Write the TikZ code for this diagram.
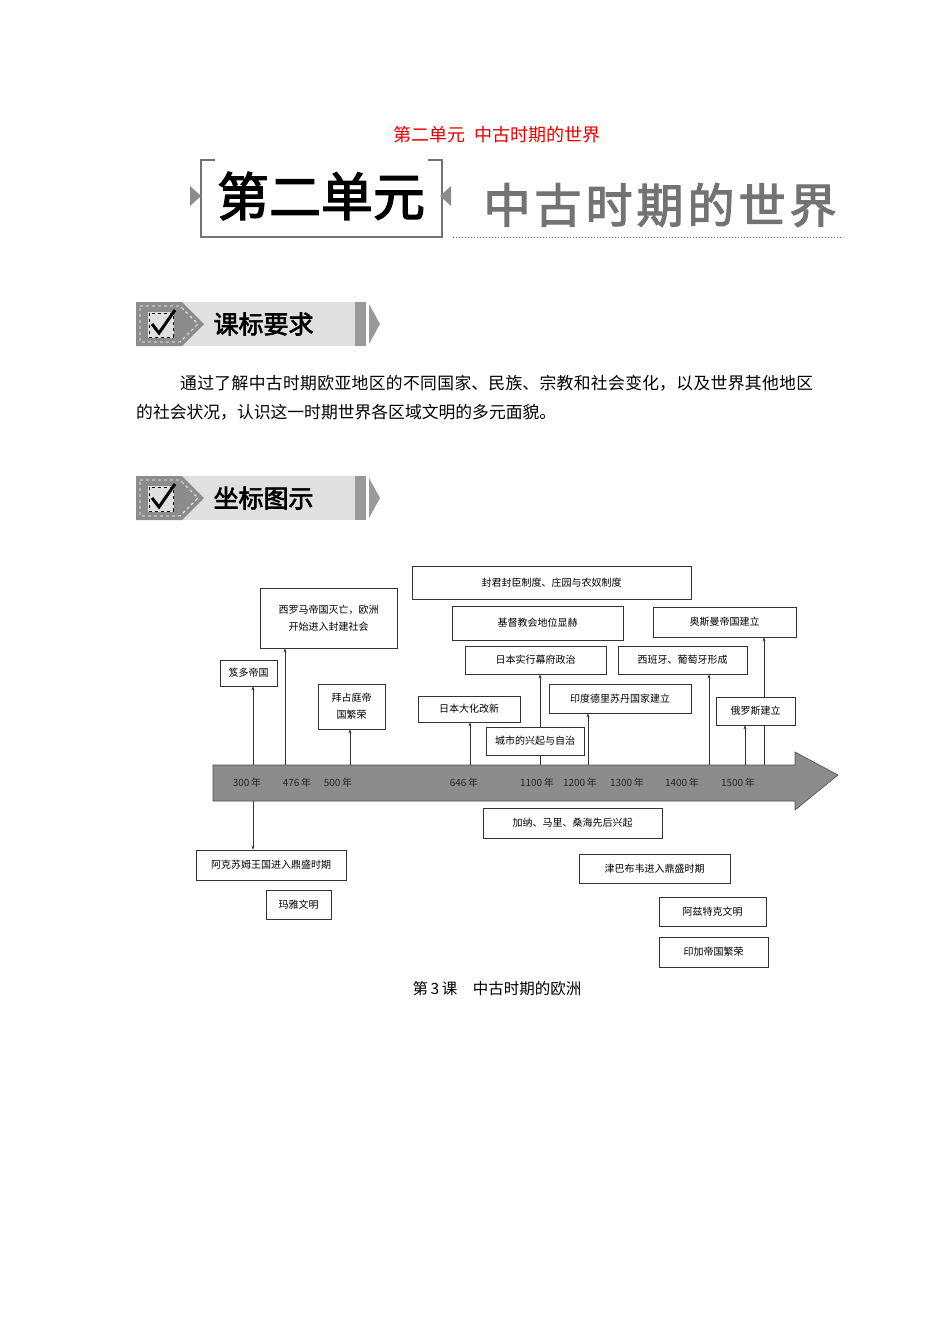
\documentclass[tikz,border=0pt]{standalone}
\usepackage{fontspec}
\setmainfont{Liberation Serif}
\newfontfamily\cjk{Noto Sans CJK SC}[AutoFakeBold=2.5]
\XeTeXlinebreaklocale "zh"
\XeTeXlinebreakskip=0pt plus 1pt
\usetikzlibrary{arrows.meta,backgrounds}
\tikzset{
  x=1pt,y=-1pt,
  ev/.style={draw=black!80,fill=white,line width=0.7pt,font=\cjk\fontsize{10}{13}\selectfont,inner sep=0pt,align=center},
  conn/.style={black!80,line width=0.6pt,-{Stealth[length=4pt,width=3pt]}},
  tick/.style={font=\cjk\fontsize{10}{12}\selectfont,text=black!85},
}
\newcommand{\bx}[6]{\node[ev,minimum width=#4-#2,minimum height=#5-#3] (#1) at ({(#2+#4)/2},{(#3+#5)/2}) {#6};}
\newcommand{\banner}[3]{%
  \fill[black!12] (136,#1) rectangle (355,#1+44);
  \fill[black!45] (136,#1) -- (182,#1) -- (204,#1+22) -- (182,#1+44) -- (136,#1+44) -- cycle;
  \draw[white,dashed,line width=0.8pt] (140,#1+4) -- (180,#1+4) -- (198,#1+22) -- (180,#1+40) -- (140,#1+40) -- cycle;
  \fill[black!12] (148,#1+10) rectangle (174,#1+36);
  \draw[black,dashed,line width=0.8pt] (149,#1+11) rectangle (173,#1+35);
  \draw[black,line width=3pt] (152,#1+22) -- (159,#1+31) -- (175,#1+8);
  \fill[black!40] (355,#1) rectangle (366,#1+44);
  \fill[black!40] (369,#1+2) -- (380,#1+22) -- (369,#1+42) -- cycle;
  \node[font=\cjk\bfseries\fontsize{25}{28}\selectfont,anchor=west] (#2) at (210,#1+22) {#3};}
\begin{document}
\begin{tikzpicture}
\useasboundingbox (0,0) rectangle (950,1344);
% header
\node[font=\cjk\fontsize{18}{20}\selectfont,text=red!90!black] (t0) at (497,135) {第二单元\ \ 中古时期的世界};
\draw[black!55,line width=1.5pt] (215,160) -- (201,160) -- (201,237) -- (442,237) -- (442,160) -- (428,160);
\fill[black!45] (190,186) -- (201,196) -- (190,206) -- cycle;
\fill[black!45] (451,186) -- (440,196) -- (451,206) -- cycle;
\node[font=\cjk\bfseries\fontsize{52}{54}\selectfont] (t1) at (321,196) {第二单元};
\node[font=\cjk\bfseries\fontsize{47}{50}\selectfont,text=black!55,anchor=west] (t2) at (480,205) {中\hspace{4pt}古\hspace{4pt}时\hspace{4pt}期\hspace{4pt}的\hspace{4pt}世\hspace{4pt}界};
\draw[black!60,dotted,line width=1pt] (453,237) -- (842,237);
% banners
\banner{302}{b1}{课标要求}
\node[font=\cjk\fontsize{16.8}{28.5}\selectfont,anchor=north west,text width=677pt,align=justify,inner sep=0pt] (para) at (136,375)
 {\hspace*{44pt}通过了解中古时期欧亚地区的不同国家、民族、宗教和社会变化，以及世界其他地区的社会状况，认识这一时期世界各区域文明的多元面貌。};
\banner{476}{b2}{坐标图示}
% timeline arrow
\fill[black!45] (213,765) -- (795,765) -- (795,752) -- (838,775) -- (795,810) -- (795,801) -- (213,801) -- cycle;
\draw[black!70,line width=0.6pt] (213,765) -- (795,765) -- (795,752) -- (838,775) -- (795,810) -- (795,801) -- (213,801) -- cycle;
\foreach \x/\t in {247/300,297/476,338/500,464/646,537/1100,580/1200,627/1300,682/1400,738/1500}
  \node[tick] at (\x,783) {\t\,年};
\coordinate (a300) at (253,765); \coordinate (a300b) at (253,801);
\coordinate (a476) at (285,765); \coordinate (a500) at (350,765);
\coordinate (a646) at (470,765); \coordinate (a1100) at (540,765);
\coordinate (a1200) at (588,765); \coordinate (a1400) at (709,765);
\coordinate (a1500) at (745,765); \coordinate (a1530) at (764,765);
% boxes
\bx{fd}{220}{660}{277}{686}{笈多帝国}
\bx{xl}{260}{588}{397}{648}{西罗马帝国灭亡，欧洲\\[4pt]开始进入封建社会}
\bx{bz}{318}{684}{385}{729}{拜占庭帝\\[4pt]国繁荣}
\bx{fj}{412}{566}{691}{599}{封君封臣制度、庄园与农奴制度}
\bx{jd}{452}{606}{623}{640}{基督教会地位显赫}
\bx{mf}{465}{646}{606}{674}{日本实行幕府政治}
\bx{dh}{418}{696}{520}{722}{日本大化改新}
\bx{cs}{486}{727}{584}{755}{城市的兴起与自治}
\bx{yd}{549}{684}{691}{713}{印度德里苏丹国家建立}
\bx{as}{653}{607}{796}{637}{奥斯曼帝国建立}
\bx{xb}{618}{646}{747}{674}{西班牙、葡萄牙形成}
\bx{el}{716}{697}{795}{725}{俄罗斯建立}
\bx{jn}{483}{808}{662}{838}{加纳、马里、桑海先后兴起}
\bx{ak}{196}{850}{346}{880}{阿克苏姆王国进入鼎盛时期}
\bx{my}{266}{890}{331}{919}{玛雅文明}
\bx{jb}{579}{854}{730}{883}{津巴布韦进入鼎盛时期}
\bx{az}{659}{897}{766}{926}{阿兹特克文明}
\bx{yj}{659}{937}{768}{967}{印加帝国繁荣}
% connectors
\begin{scope}[on background layer]
\draw[conn] (a300) -- (a300 |- fd.south);
\draw[conn] (a300b) -- (a300b |- ak.north);
\draw[conn] (a476) -- (a476 |- xl.south);
\draw[conn] (a500) -- (a500 |- bz.south);
\draw[conn] (a646) -- (a646 |- dh.south);
\draw[conn] (a1100) -- (a1100 |- mf.south);
\draw[conn] (a1200) -- (a1200 |- yd.south);
\draw[conn] (a1400) -- (a1400 |- xb.south);
\draw[conn] (a1500) -- (a1500 |- el.south);
\draw[conn] (a1530) -- (a1530 |- as.south);
\end{scope}
\node[font=\cjk\fontsize{15.5}{18}\selectfont] (cap) at (497,989) {第\,3\,课\quad 中古时期的欧洲};
\end{tikzpicture}
\end{document}
